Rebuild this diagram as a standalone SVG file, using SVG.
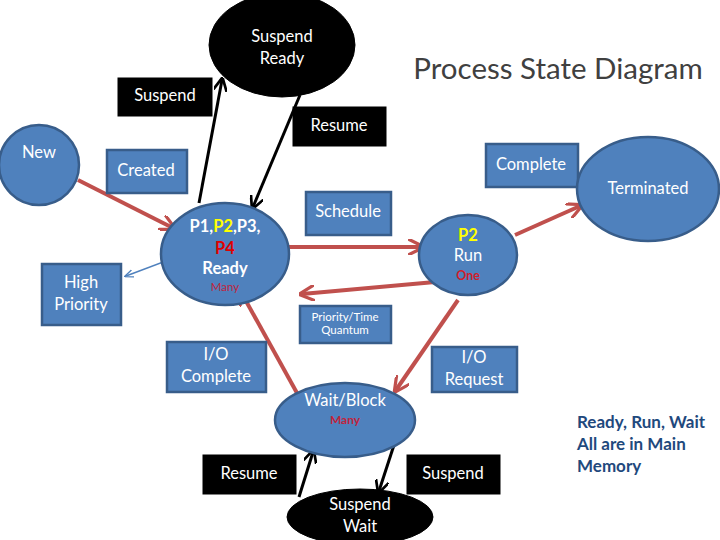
<svg xmlns="http://www.w3.org/2000/svg" width="720" height="540" viewBox="0 0 720 540">
<defs>
<style>
.bn{fill:#4F81BD;stroke:#385D8A;stroke-width:2.5}
.bk{fill:#000;stroke:#000}
.t{font-family:Lato,"Liberation Sans",sans-serif;font-size:16.5px;fill:#fff;text-anchor:middle;dominant-baseline:middle}
.b{font-weight:bold}
.red{stroke:#C0504D;stroke-width:4;fill:none}
.blk{stroke:#000;stroke-width:3;fill:none}
</style>
<marker id="ar" viewBox="0 0 10 10" refX="8" refY="5" markerWidth="4" markerHeight="4" orient="auto" markerUnits="strokeWidth"><path d="M0,0 L10,5 L0,10" fill="none" stroke="#C0504D" stroke-width="2"/></marker>
<marker id="ak" viewBox="0 0 10 10" refX="8" refY="5" markerWidth="4.5" markerHeight="4.5" orient="auto" markerUnits="strokeWidth"><path d="M0,0 L10,5 L0,10" fill="none" stroke="#000" stroke-width="2"/></marker>
<marker id="ab" viewBox="0 0 10 10" refX="8" refY="5" markerWidth="6" markerHeight="6" orient="auto" markerUnits="strokeWidth"><path d="M0,1 L10,5 L0,9" fill="none" stroke="#4F81BD" stroke-width="1.5"/></marker>
</defs>
<rect width="720" height="540" fill="#fff"/>
<text x="558" y="72" style="font-family:Lato,'Liberation Sans',sans-serif;font-size:29.5px;fill:#404040;text-anchor:middle;dominant-baseline:middle">Process State Diagram</text>
<g id="connectors">
<line class="red" x1="78" y1="180" x2="173" y2="228" marker-end="url(#ar)"/>
<line class="red" x1="289" y1="247" x2="421" y2="247" marker-end="url(#ar)"/>
<line class="red" x1="435" y1="282" x2="302" y2="294" marker-end="url(#ar)"/>
<line class="red" x1="515" y1="235" x2="580" y2="206" marker-end="url(#ar)"/>
<line class="red" x1="458" y1="300" x2="396" y2="390" marker-end="url(#ar)"/>
<line class="red" x1="297" y1="393" x2="241" y2="292" marker-end="url(#ar)"/>
<line x1="203" y1="247" x2="126" y2="276" stroke="#4F81BD" stroke-width="1.5" marker-end="url(#ab)"/>
<line class="blk" x1="199" y1="203" x2="222" y2="80" marker-end="url(#ak)"/>
<line class="blk" x1="300" y1="95" x2="253" y2="207" marker-end="url(#ak)"/>
<line class="blk" x1="299" y1="497" x2="313" y2="452" marker-end="url(#ak)"/>
<line class="blk" x1="394" y1="445" x2="379" y2="491" marker-end="url(#ak)"/>
</g>
<g id="suspend-ready"><ellipse class="bk" cx="282" cy="45" rx="73" ry="52"/><text class="t" x="282" y="38">Suspend</text><text class="t" x="282" y="60">Ready</text></g>
<g id="label-suspend-top"><rect class="bk" x="118" y="78" width="94" height="38"/><text class="t" x="165" y="97">Suspend</text></g>
<g id="label-resume-top"><rect class="bk" x="293" y="107" width="93" height="39"/><text class="t" x="339" y="127">Resume</text></g>
<g id="new"><ellipse class="bn" cx="39" cy="165" rx="40" ry="40"/><text class="t" x="39" y="154">New</text></g>
<g id="label-created"><rect class="bn" x="107" y="150" width="80" height="43"/><text class="t" x="146" y="172">Created</text></g>
<g id="label-high-priority"><rect class="bn" x="42" y="264" width="79" height="61"/><text class="t" x="81" y="284">High</text><text class="t" x="81" y="306">Priority</text></g>
<g id="ready"><ellipse class="bn" cx="225" cy="254" rx="64" ry="51"/>
<text class="t b" x="225" y="228">P1,<tspan style="fill:#FFFF00">P2</tspan>,P3,</text>
<text class="t b" x="225" y="250" style="fill:#E00000">P4</text>
<text class="t b" x="225" y="270">Ready</text>
<text class="t" x="225" y="288" style="fill:#C0243C;font-size:11.5px">Many</text></g>
<g id="label-schedule"><rect class="bn" x="306" y="192" width="85" height="43"/><text class="t" x="348" y="213">Schedule</text></g>
<g id="run"><ellipse class="bn" cx="468" cy="255" rx="49" ry="40"/>
<text class="t b" x="468" y="237" style="fill:#FFFF00">P2</text>
<text class="t" x="468" y="257">Run</text>
<text class="t b" x="468" y="277" style="fill:#D0202A;font-size:12.5px">One</text></g>
<g id="label-priority"><rect class="bn" x="300" y="306" width="91" height="37"/><text class="t" x="345" y="318" style="font-size:11.5px">Priority/Time</text><text class="t" x="345" y="331" style="font-size:11.5px">Quantum</text></g>
<g id="label-complete"><rect class="bn" x="486" y="144" width="92" height="43"/><text class="t" x="531" y="166">Complete</text></g>
<g id="terminated"><ellipse class="bn" cx="648" cy="189" rx="71" ry="52"/><text class="t" x="648" y="190">Terminated</text></g>
<g id="label-io-complete"><rect class="bn" x="167" y="342" width="99" height="50"/><text class="t" x="216" y="356">I/O</text><text class="t" x="216" y="378">Complete</text></g>
<g id="label-io-request"><rect class="bn" x="432" y="347" width="85" height="45"/><text class="t" x="474" y="359">I/O</text><text class="t" x="474" y="381">Request</text></g>
<g id="wait"><ellipse class="bn" cx="345" cy="420" rx="70" ry="37"/><text class="t" x="345" y="402">Wait/Block</text><text class="t b" x="345" y="421" style="fill:#C0243C;font-size:12px">Many</text></g>
<g id="label-resume-bottom"><rect class="bk" x="203" y="455" width="93" height="39"/><text class="t" x="249" y="475">Resume</text></g>
<g id="label-suspend-bottom"><rect class="bk" x="407" y="455" width="93" height="39"/><text class="t" x="453" y="475">Suspend</text></g>
<g id="suspend-wait"><ellipse class="bk" cx="360" cy="517" rx="73" ry="28"/><text class="t" x="360" y="506">Suspend</text><text class="t" x="360" y="528">Wait</text></g>
<g id="note" style="font-family:Lato,'Liberation Sans',sans-serif;font-size:17px;font-weight:bold;fill:#1F497D">
<text x="577" y="428">Ready, Run, Wait</text>
<text x="577" y="450">All are in Main</text>
<text x="577" y="472">Memory</text></g>
</svg>
